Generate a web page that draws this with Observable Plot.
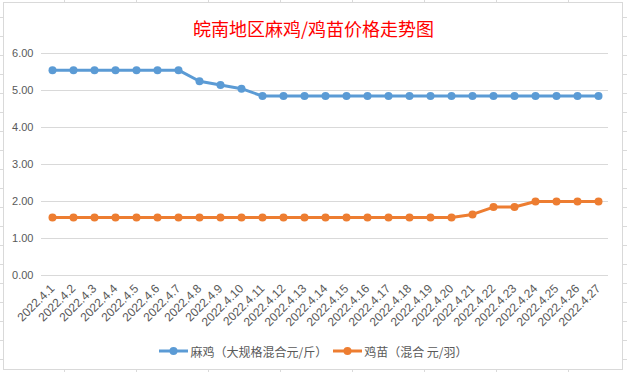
<!DOCTYPE html>
<html>
<head>
<meta charset="utf-8">
<script src="https://cdn.jsdelivr.net/npm/d3@7"></script>
<script src="https://cdn.jsdelivr.net/npm/@observablehq/plot@0.6"></script>
<style>
  html, body { margin: 0; padding: 0; }
  body {
    width: 627px; height: 372px; position: relative; overflow: hidden;
    background-color: #fff;
    background-image:
      linear-gradient(to right, #dadada 1px, transparent 1px),
      linear-gradient(to bottom, #dadada 1px, transparent 1px);
    background-size: 72px 100%, 100% 19px;
    background-position: 64px 0, 0 17px;
  }
  #box {
    position: absolute; left: 3px; top: 2px; width: 618px; height: 366px;
    background: #fff; border: 1px solid #d9d9d9;
  }
  #title {
    position: absolute; left: 0; top: 17px; width: 627px; text-align: center;
    font-family: "Noto Sans CJK SC", sans-serif; font-size: 18px; line-height: 22px;
    color: #ff0000;
  }
  #plot { position: absolute; left: 0; top: 40px; }
  #legend {
    position: absolute; left: 0; top: 341px; width: 627px; height: 20px;
    display: flex; justify-content: center; align-items: center; gap: 6px;
    font-family: "Noto Sans CJK SC", sans-serif; font-size: 12px; color: #595959;
  }
  .item { display: flex; align-items: center; gap: 2px; }
  .item svg { display: block; }
</style>
</head>
<body>
<div id="box"></div>
<div id="title">皖南地区麻鸡/鸡苗价格走势图</div>
<div id="plot"></div>
<div id="legend"></div>
<script>
const dates = ["2022.4.1","2022.4.2","2022.4.3","2022.4.4","2022.4.5","2022.4.6","2022.4.7","2022.4.8","2022.4.9","2022.4.10","2022.4.11","2022.4.12","2022.4.13","2022.4.14","2022.4.15","2022.4.16","2022.4.17","2022.4.18","2022.4.19","2022.4.20","2022.4.21","2022.4.22","2022.4.23","2022.4.24","2022.4.25","2022.4.26","2022.4.27"];
const majiPrice = [5.55,5.55,5.55,5.55,5.55,5.55,5.55,5.25,5.15,5.05,4.85,4.85,4.85,4.85,4.85,4.85,4.85,4.85,4.85,4.85,4.85,4.85,4.85,4.85,4.85,4.85,4.85];
const jimiaoPrice = [1.57,1.57,1.57,1.57,1.57,1.57,1.57,1.57,1.57,1.57,1.57,1.57,1.57,1.57,1.57,1.57,1.57,1.57,1.57,1.57,1.65,1.85,1.85,2.0,2.0,2.0,2.0];
const yTicks = [0,1,2,3,4,5,6];
const seriesNames = ["麻鸡（大规格混合元/斤）", "鸡苗（混合 元/羽）"];
const seriesColors = ["#5b9bd5", "#ed7d31"];

const seriesValues = [majiPrice, jimiaoPrice];
const data = seriesNames.flatMap((s, k) => dates.map((d, i) => ({date: d, value: seriesValues[k][i], series: s})));

const chart = Plot.plot({
  width: 627, height: 290,
  marginLeft: 41, marginRight: 19, marginTop: 13, marginBottom: 55,
  x: {type: "point", domain: dates, padding: 0.5, label: null},
  y: {domain: [0, 6], label: null},
  color: {domain: seriesNames, range: seriesColors},
  style: {fontFamily: "Liberation Sans, Arial, sans-serif", fontSize: "11px", color: "#595959", background: "transparent", overflow: "visible"},
  marks: [
    Plot.gridY(yTicks, {stroke: "#d9d9d9", strokeOpacity: 1}),
    Plot.axisY(yTicks, {tickSize: 0, tickPadding: 8, tickFormat: d3.format(".2f"), label: null}),
    Plot.axisX({tickSize: 0, tickPadding: 11, tickRotate: -45, fontSize: 12, label: null}),
    Plot.line(data, {x: "date", y: "value", z: "series", stroke: "series", strokeWidth: 3}),
    Plot.dot(data, {x: "date", y: "value", fill: "series", r: 4})
  ]
});
document.getElementById("plot").appendChild(chart);

const legend = d3.select("#legend");
seriesNames.forEach((s, k) => {
  const item = legend.append("div").attr("class", "item");
  const sw = item.append("svg").attr("width", 29).attr("height", 10);
  sw.append("line").attr("x1", 0).attr("x2", 29).attr("y1", 5).attr("y2", 5)
    .attr("stroke", seriesColors[k]).attr("stroke-width", 3);
  sw.append("circle").attr("cx", 14.5).attr("cy", 5).attr("r", 4).attr("fill", seriesColors[k]);
  item.append("span").text(s);
});
</script>
</body>
</html>
